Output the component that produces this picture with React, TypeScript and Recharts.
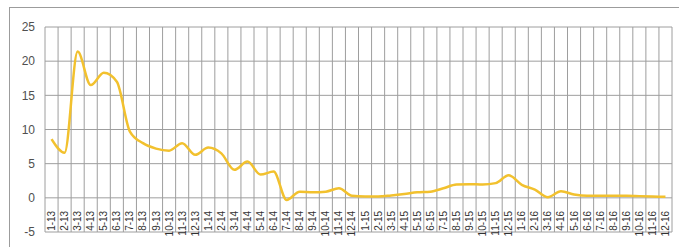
import React from 'react';
import { LineChart, Line, XAxis, YAxis, CartesianGrid } from 'recharts';

// Monatskategorien (Monat-Jahr)
const months = [
  '1-13', '2-13', '3-13', '4-13', '5-13', '6-13', '7-13', '8-13', '9-13', '10-13', '11-13', '12-13',
  '1-14', '2-14', '3-14', '4-14', '5-14', '6-14', '7-14', '8-14', '9-14', '10-14', '11-14', '12-14',
  '1-15', '2-15', '3-15', '4-15', '5-15', '6-15', '7-15', '8-15', '9-15', '10-15', '11-15', '12-15',
  '1-16', '2-16', '3-16', '4-16', '5-16', '6-16', '7-16', '8-16', '9-16', '10-16', '11-16', '12-16',
];

// Werte der Linie
const values = [
  8.6, 6.6, 21.4, 16.5, 18.3, 17.0, 9.7, 8.0, 7.2, 6.9, 8.0, 6.3,
  7.35, 6.5, 4.1, 5.3, 3.4, 3.85, -0.3, 0.9, 0.8, 0.9, 1.4, 0.3,
  0.2, 0.2, 0.35, 0.55, 0.8, 0.9, 1.4, 1.95, 2.0, 1.95, 2.15, 3.3,
  1.9, 1.2, 0.1, 0.95, 0.5, 0.3, 0.3, 0.3, 0.3, 0.25, 0.2, 0.15,
];

const yTicks = [-5, 0, 5, 10, 15, 20, 25];

const data = months.map((m, i) => ({ month: m, value: values[i] }));

const W = 679;
const H = 247;
const X_AXIS_H = 15;
const MARGIN = { top: 27, right: 7, bottom: 0, left: 0 };
const Y_MIN = -5;
const Y_MAX = 25;
const PLOT_H = H - MARGIN.top - MARGIN.bottom - X_AXIS_H;
// Abstand von der Unterkante bis zur Nulllinie
const zeroOffset = (PLOT_H * (0 - Y_MIN)) / (Y_MAX - Y_MIN);

// Senkrechte Beschriftung direkt unter der Nulllinie
const renderMonthTick = (props: any) => {
  const { x, y, payload } = props;
  const ty = y - zeroOffset + 5;
  return (
    <text
      key={`t-${payload.value}`}
      x={x}
      y={ty}
      dy="0.35em"
      transform={`rotate(-90, ${x}, ${ty})`}
      textAnchor="end"
      fontSize={10}
      fontFamily="Liberation Sans, Arial, sans-serif"
      fill="#333333"
    >
      {payload.value}
    </text>
  );
};

const App: React.FC = () => {
  return (
    <div style={{ position: 'absolute', left: 0, top: 0, width: W, height: H, overflow: 'hidden', background: '#fff' }}>
      <div
        style={{
          position: 'absolute',
          left: 9,
          top: 7,
          width: 720,
          height: 300,
          border: '1px solid #9c9c9c',
        }}
      />
      <div style={{ position: 'absolute', left: 0, top: 0 }}>
        <LineChart width={W} height={H} data={data} margin={MARGIN}>
          <CartesianGrid
            stroke="#9e9e9e"
            horizontal={true}
            vertical={true}
            verticalCoordinatesGenerator={({ offset }: any) =>
              months.map((_, i) => offset.left + (i * offset.width) / months.length).concat(offset.left + offset.width)
            }
          />
          <XAxis
            dataKey="month"
            scale="band"
            interval={0}
            height={X_AXIS_H}
            axisLine={false}
            tickLine={false}
            tick={renderMonthTick}
          />
          <YAxis
            width={45}
            domain={[Y_MIN, Y_MAX]}
            ticks={yTicks}
            axisLine={false}
            tickLine={false}
            tickSize={0}
            tickMargin={10}
            tick={{ fontSize: 12, fill: '#505050', fontFamily: 'Liberation Sans, Arial, sans-serif' }}
          />
          <Line
            type="monotone"
            dataKey="value"
            stroke="#f2c12e"
            strokeWidth={2.5}
            dot={false}
            isAnimationActive={false}
          />
        </LineChart>
      </div>
    </div>
  );
};

export default App;
